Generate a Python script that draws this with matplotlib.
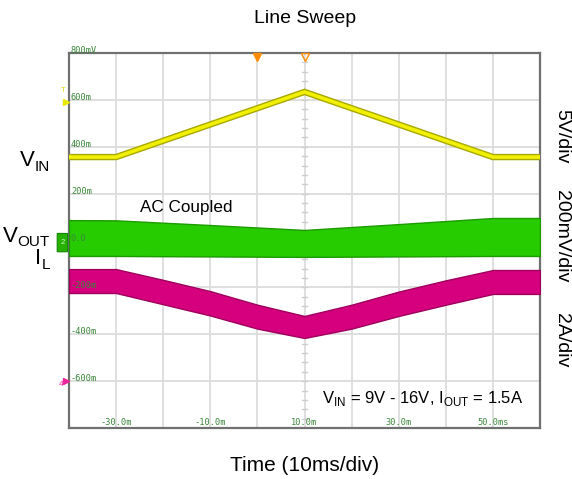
import numpy as np
import matplotlib.pyplot as plt
from matplotlib.patches import FancyBboxPatch

plt.rc('font', family=['Liberation Sans', 'DejaVu Sans'])

# time base (ms) and screen values (mV on 200mV/div screen)
t_vin = [-40, -30, 10, 50, 60]
vin_mv = [356, 356, 634, 356, 356]

t_vout = [-40, -30, -10, 10, 30, 50, 60]
vout_hi = [87, 86, 66, 45, 70, 96, 96]
vout_lo = [-66, -66, -68, -70, -68, -66, -66]

t_il = [-40, -30, -20, -10, 0, 10, 20, 30, 40, 50, 60]
il_hi = [-122, -122, -168, -216, -274, -322, -274, -218, -170, -126, -126]
il_lo = [-224, -224, -272, -320, -376, -416, -376, -322, -274, -228, -228]

y_ticks = [800, 600, 400, 200, 0, -200, -400, -600]
y_labels = ['800mV', '600m', '400m', '200m', '0.0', '-200m', '-400m', '-600m']
x_ticks = [-30, -10, 10, 30, 50]
x_labels = ['-30.0m', '-10.0m', '10.0m', '30.0m', '50.0ms']

W, H = 572, 479
fig = plt.figure(figsize=(W / 100, H / 100), dpi=100)
ax = fig.add_axes([69 / W, 1 - 428 / H, 471 / W, 375 / H])
ax.set_xlim(-40, 60)
ax.set_ylim(-800, 800)

# griglia
for x in np.arange(-30, 60, 10):
    ax.axvline(x, color='#dcdcdc', lw=1.3, zorder=0)
for y in np.arange(-600, 800, 200):
    ax.axhline(y, color='#dcdcdc', lw=1.3, zorder=0)
# tacche sulla linea centrale
for y in np.arange(-800, 800, 40):
    ax.plot([9.4, 10.6], [y, y], color='#cfcfcf', lw=1.0, zorder=0)

ax.set_xticks([])
ax.set_yticks([])
for s in ax.spines.values():
    s.set_color('#707070')
    s.set_linewidth(1.6)

# etichette interne
for y, lab in zip(y_ticks, y_labels):
    ax.text(-39.6, y + 10, lab, fontsize=6.2, family='DejaVu Sans Mono', color='#3a873a',
            va='center', ha='left', zorder=5)
for x, lab in zip(x_ticks, x_labels):
    ax.text(x, -775, lab, fontsize=6.2, family='DejaVu Sans Mono', color='#3a873a',
            va='center', ha='center', zorder=5)

# tracce
ax.plot(t_vin, vin_mv, color='#a8a800', lw=4.6, solid_joinstyle='miter', zorder=3)
ax.plot(t_vin, vin_mv, color='#f0f000', lw=2.6, solid_joinstyle='miter', zorder=3)

ax.fill_between(t_vout, vout_lo, vout_hi, color='#26cc00', edgecolor='#1d9a00', lw=1.0, zorder=3)
ax.fill_between(t_il, il_lo, il_hi, color='#d6007f', edgecolor='#9e005c', lw=1.0, zorder=3)

# marcatori
ax.plot([0], [785], marker='v', color='#ff8c00', ms=6, clip_on=False, zorder=6)
ax.plot([10], [785], marker='v', mfc='none', mec='#ff8c00', ms=6, mew=1, clip_on=False, zorder=6)
ax.plot([-40.6], [590], marker='>', color='#e8e800', ms=5, clip_on=False, zorder=6)
ax.text(-41.2, 640, 'T', fontsize=5.5, color='#d8d800', ha='center', va='center', clip_on=False)
box = FancyBboxPatch((-42.4, -48), 2.0, 78, boxstyle='round,pad=0.1,rounding_size=0.5',
                     fc='#26b000', ec='#118800', lw=0.8, clip_on=False, zorder=6,
                     transform=ax.transData)
ax.add_patch(box)
ax.text(-41.4, -8, '2', fontsize=5.5, color='#d0ffd0', ha='center', va='center', clip_on=False, zorder=7)
ax.plot([-40.6], [-600], marker='>', color='#ee2299', ms=4, clip_on=False, zorder=6)
ax.text(-41.6, -615, '4', fontsize=6, color='#ee2299', ha='center', va='center', clip_on=False)

# testi
fig.text(0.533, 0.962, 'Line Sweep', fontsize=14, ha='center', va='center')
fig.text(0.533, 0.029, 'Time (10ms/div)', fontsize=15, ha='center', va='center')

renderer = fig.canvas.get_renderer()


def etichetta(main, sub, x_right, y_px):
    # lettera grande + pedice, allineati a destra su x_right (pixel)
    ts = fig.text(x_right / W, 1 - (y_px + 6) / H, sub, fontsize=11, ha='right', va='center')
    w = ts.get_window_extent(renderer).width
    fig.text((x_right - w) / W, 1 - y_px / H, main, fontsize=16, ha='right', va='center')


etichetta('V', 'IN', 50, 161)
etichetta('V', 'OUT', 50, 236)
etichetta('I', 'L', 50, 259)

fig.text(562 / W, 1 - 136 / H, '5V/div', fontsize=14, ha='center', va='center', rotation=-90)
fig.text(562 / W, 1 - 236 / H, '200mV/div', fontsize=14, ha='center', va='center', rotation=-90)
fig.text(562 / W, 1 - 340 / H, '2A/div', fontsize=14, ha='center', va='center', rotation=-90)
ax.text(-24.9, 140, 'AC Coupled', fontsize=12.3, ha='left', va='center', zorder=5)
ax.text(13.7, -675, r'V$_{\mathregular{IN}}$ = 9V - 16V, I$_{\mathregular{OUT}}$ = 1.5A',
        fontsize=12, ha='left', va='center', zorder=5)

plt.savefig('out.png', dpi=100)
